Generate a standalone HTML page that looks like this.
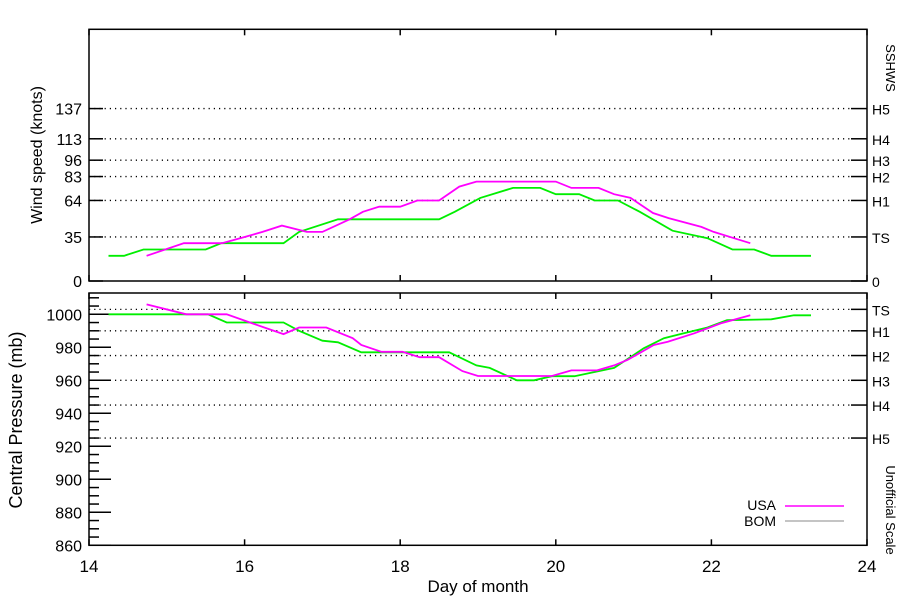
<!DOCTYPE html>
<html><head><meta charset="utf-8"><style>
body{margin:0;background:#fff;}
svg{display:block;font-family:"Liberation Sans",sans-serif;}
</style></head><body>
<svg id="chart" width="900" height="600" viewBox="0 0 900 600" xmlns="http://www.w3.org/2000/svg">
<rect width="900" height="600" fill="#fff"/>
<g id="g"></g>
</svg>
<script>
const usaWindDays=[14.74,15.22,15.71,16.0,16.23,16.48,16.8,17.0,17.35,17.52,17.73,18.0,18.22,18.5,18.76,18.98,20.0,20.2,20.55,20.75,20.96,21.25,21.45,21.87,22.03,22.29,22.5];
const usaWind=[20,30,30,35,39,44,39,39,49,55,59,59,64,64,75,79,79,74,74,69,66,54,50,43,39,34,30];
const bomWindDays=[14.25,14.45,14.7,15.5,15.7,16.5,16.7,17.2,18.5,18.7,19.03,19.45,19.8,20.0,20.3,20.5,20.8,21.08,21.5,21.95,22.27,22.55,22.77,23.28];
const bomWind=[20,20,25,25,30,30,39,49,49,55,66,74,74,69,69,64,64,55,40,34,25,25,20,20];
const usaPresDays=[14.74,15.25,15.77,16.1,16.5,16.7,17.05,17.39,17.5,17.76,18.03,18.25,18.5,18.8,19.0,19.95,20.2,20.53,20.75,20.92,21.26,21.44,21.78,22.12,22.5];
const usaPres=[1006,1000,1000,994.5,988,992,992,985.5,981.4,977.3,977.3,974,974,965.6,962.6,962.6,966,966,969,972.3,981.4,983.4,988.5,994.5,999.4];
const bomPresDays=[14.25,15.53,15.77,16.5,16.7,17.0,17.2,17.5,18.63,18.98,19.15,19.5,19.72,19.95,20.24,20.75,21.13,21.39,21.6,21.95,22.2,22.77,23.06,23.28];
const bomPres=[1000,1000,995,995,990,984,983,977,977,969,967.5,960,960,962.5,962.5,967.5,979.4,985.5,988,992,996.4,997,999.4,999.4];
const windTicks=[0,35,64,83,96,113,137];
const windCats=["0","TS","H1","H2","H3","H4","H5"];
const presTicks=[1000,980,960,940,920,900,880,860];
const presCats=[1003,990,975,960,945,925];
const presCatLabels=["TS","H1","H2","H3","H4","H5"];
const dayTicks=[14,16,18,20,22,24];

const NS="http://www.w3.org/2000/svg";
const g=document.getElementById('g');
const X0=89,X1=867;
const x=d=>X0+(d-14)*(X1-X0)/10;
const T0=29.3,T1=281;
const yw=v=>T1-v*(T1-T0)/200;
const B0=293,B1=545.3;
const yp=p=>B1-(p-860)*1.65;
function el(tag,attrs,txt){const e=document.createElementNS(NS,tag);for(const k in attrs)e.setAttribute(k,attrs[k]);if(txt!==undefined)e.textContent=txt;g.appendChild(e);return e;}
function line(x1,y1,x2,y2,extra){return el('line',Object.assign({x1,y1,x2,y2,stroke:'#000','stroke-width':1.5},extra||{}));}
function text(tx,ty,s,anchor,extra){return el('text',Object.assign({x:tx,y:ty,'font-size':16,'text-anchor':anchor||'middle',fill:'#000'},extra||{}),s);}

// frames
let f1=el('rect',{x:X0,y:T0,width:X1-X0,height:T1-T0,fill:'none',stroke:'#000','stroke-width':1.5});

let f2=el('rect',{x:X0,y:B0,width:X1-X0,height:B1-B0,fill:'none',stroke:'#000','stroke-width':1.5});


// wind levels
windTicks.forEach((v,i)=>{
  const yy=yw(v);
  if(v>0){let d=line(X0,yy,851,yy,{'stroke-dasharray':'1.2,4','stroke-width':1.3});
    }
  line(851,yy,X1,yy);
  line(X0,yy,X0+14,yy);
  let t=text(82,yy+6,String(v),'end');
  
  let c=text(872,yy+6,windCats[i],'start',{'font-size':14});
  
});
// pressure levels
presCats.forEach((p,i)=>{
  const yy=yp(p);
  let d=line(X0,yy,851,yy,{'stroke-dasharray':'1.2,4','stroke-width':1.3});
  
  line(851,yy,X1,yy);
  let c=text(872,yy+6,presCatLabels[i],'start',{'font-size':14});
  
});
for(let p=860;p<=1010;p+=5){const yy=yp(p);const major=p%20===0;line(X0,yy,X0+(major?22:10),yy);}
presTicks.forEach(p=>{let t=text(82,yp(p)+6,String(p),'end');
  });
// x ticks
dayTicks.forEach(d=>{
  const xx=x(d);
  [T0,B0].forEach(yy=>line(xx,yy,xx,yy+6));
  [T1,B1].forEach(yy=>line(xx,yy,xx,yy-6));
  let t=text(xx,572,String(d),'middle',{'font-size':17});
  
});
// series
function series(days,vals,yf,color,name){
  const pts=days.map((d,i)=>x(d).toFixed(1)+','+yf(vals[i]).toFixed(1)).join(' ');
  const p=el('polyline',{points:pts,fill:'none',stroke:color,'stroke-width':1.8});
  
  
}
series(bomWindDays,bomWind,yw,'#00ee00','bom-wind-line');
series(usaWindDays,usaWind,yw,'#ff00ff','usa-wind-line');
series(bomPresDays,bomPres,yp,'#00ee00','bom-pressure-line');
series(usaPresDays,usaPres,yp,'#ff00ff','usa-pressure-line');

// titles
let a=text(42,155,'Wind speed (knots)','middle',{'font-size':16,transform:'rotate(-90 42 155)'});

let b=text(22,420,'Central Pressure (mb)','middle',{'font-size':18,transform:'rotate(-90 22 420)'});

let c=text(478,592,'Day of month','middle',{'font-size':17});

let s=text(886,68,'SSHWS','middle',{'font-size':13,transform:'rotate(90 886 68)'});

let u=text(886,510,'Unofficial Scale','middle',{'font-size':13,transform:'rotate(90 886 510)'});

// legend
let l1=text(776,510,'USA','end',{'font-size':14});

let l1l=line(785,506,844,506,{stroke:'#ff00ff','stroke-width':1.5});

let l2=text(776,526,'BOM','end',{'font-size':14});

let l2l=line(785,521,844,521,{stroke:'#888','stroke-width':1});

</script>
</body></html>
